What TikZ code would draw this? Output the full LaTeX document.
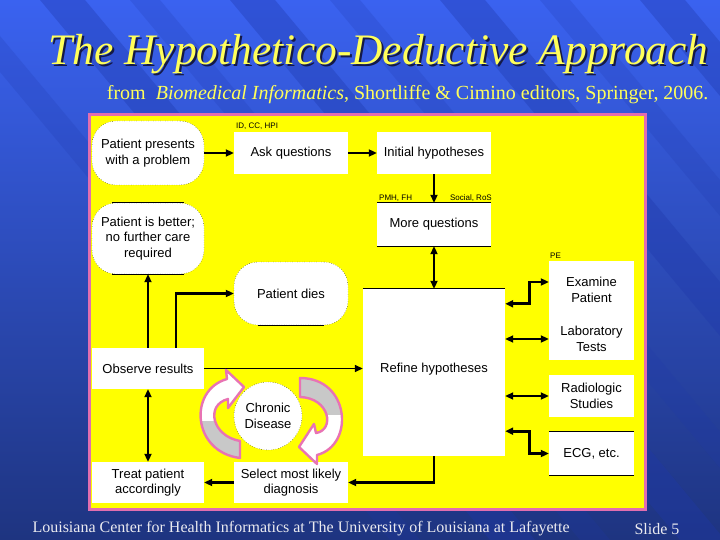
\documentclass[tikz,border=0pt]{standalone}
\usepackage{fontspec}
\setmainfont{Liberation Serif}
\newfontfamily\diagfont{Liberation Sans}
\usetikzlibrary{arrows.meta}
\definecolor{bgtop}{RGB}{58,98,240}
\definecolor{bgbot}{RGB}{30,52,128}
\definecolor{stripec}{RGB}{30,55,170}
\definecolor{panelpink}{RGB}{225,110,175}
\definecolor{panelyellow}{RGB}{255,255,0}
\definecolor{titleyellow}{RGB}{255,255,90}
\definecolor{shadowc}{RGB}{20,25,70}
\definecolor{footc}{RGB}{235,235,240}
\definecolor{arrpink}{RGB}{232,115,180}
\definecolor{arrgray}{RGB}{200,200,200}
\tikzset{
  sbox/.style={fill=white, draw=none, inner sep=0pt, align=center,
    font=\diagfont\fontsize{13}{15.5}\selectfont},
  rbox/.style={sbox, draw=black, dotted, thin, rounded corners=24pt},
  smalllbl/.style={inner sep=0pt, font=\diagfont\fontsize{8}{9}\selectfont},
  tri/.tip={Triangle[length=8pt,width=7pt]},
  thk/.style={line width=2.8pt, black},
  med/.style={line width=2.2pt, black},
  thn/.style={line width=1.6pt, black},
  solidedge/.style={line width=0.9pt, black},
  ribbon/.style={draw=arrpink, line width=2.4pt, line join=round}
}
\def\leftribbon{(240,441) .. controls (212,436) and (205,405) .. (228,399) -- (228,408) -- (244,387) -- (226,370) -- (227,379) .. controls (188,390) and (192,452) .. (240,458) -- cycle}
\def\rightribbon{(300,397) .. controls (330,398) and (335,430) .. (316,433) -- (314,424) -- (299,447) -- (317,464) -- (317,455) .. controls (355,445) and (350,378) .. (300,378) -- cycle}
\begin{document}
\begin{tikzpicture}[x=1pt,y=-1pt]
\useasboundingbox (0,0) rectangle (720,540);
% background
\shade[top color=bgtop, bottom color=bgbot] (0,0) rectangle (720,540);
\begin{scope}
\clip (0,0) rectangle (720,540);
\foreach \x in {40,230,440,640} {
  \fill[stripec, opacity=0.35] (\x,0) -- ++(45,0) -- ++(450,540) -- ++(-45,0) -- cycle;
}
\foreach \x in {-60,130,330,540} {
  \fill[stripec, opacity=0.2] (\x,0) -- ++(30,0) -- ++(450,540) -- ++(-30,0) -- cycle;
}
\end{scope}
% title
\node[font=\itshape\fontsize{43.5}{48}\selectfont, text=shadowc] (titleshadow) at (380.5,56.5) {The Hypothetico-Deductive Approach};
\node[font=\itshape\fontsize{43.5}{48}\selectfont, text=titleyellow] (title) at (378.5,54.5) {The Hypothetico-Deductive Approach};
\node[font=\fontsize{20}{22}\selectfont, text=titleyellow, anchor=east] (subtitle) at (712,95) {from \ \textit{Biomedical Informatics}, Shortliffe \& Cimino editors, Springer, 2006.};
% footer
\node[font=\fontsize{16}{18}\selectfont, text=footc, anchor=west] (footer) at (29,529) {Louisiana Center for Health Informatics at The University of Louisiana at Lafayette};
\node[font=\fontsize{16}{18}\selectfont, text=footc, anchor=east] (slide) at (683,529) {Slide 5};
% panel
\fill[panelpink] (88,113) rectangle (647,511);
\fill[panelyellow] (91,116) rectangle (644,508);
% nodes
\node[rbox, minimum width=112pt, minimum height=64pt] (pres) at (148,153) {Patient presents\\with a problem};
\node[rbox, minimum width=112pt, minimum height=71pt] (better) at (148,238.5) {Patient is better;\\no further care\\required};
\node[rbox, minimum width=114pt, minimum height=63pt] (dies) at (291,293.5) {Patient dies};
\node[sbox, minimum width=114pt, minimum height=42pt] (ask) at (291,153) {Ask questions};
\node[sbox, minimum width=114pt, minimum height=42pt] (init) at (434,153) {Initial hypotheses};
\node[sbox, minimum width=114pt, minimum height=43pt] (more) at (434,224.5) {More questions};
\node[sbox, minimum width=142pt, minimum height=167pt, text depth=9pt] (refine) at (434,372.5) {Refine hypotheses};
\node[sbox, minimum width=112pt, minimum height=41pt] (obs) at (148,368.5) {Observe results};
\node[sbox, circle, draw=black, dotted, thin, minimum size=68pt] (chronic) at (268,416) {Chronic\\Disease};
\node[sbox, minimum width=112pt, minimum height=41pt] (treat) at (148,482.5) {Treat patient\\accordingly};
\node[sbox, minimum width=114pt, minimum height=41pt] (select) at (291,482.5) {Select most likely\\diagnosis};
\node[sbox, minimum width=85pt, minimum height=58pt] (exam) at (591.5,290) {Examine\\Patient};
\node[sbox, minimum width=85pt, minimum height=42pt] (lab) at (591.5,339) {Laboratory\\Tests};
\node[sbox, minimum width=85pt, minimum height=42pt] (rad) at (591.5,396) {Radiologic\\Studies};
\node[sbox, minimum width=85pt, minimum height=43pt] (ecg) at (591.5,453.5) {ECG, etc.};
% solid edges
\draw[solidedge] (more.north west) -- (more.north east);
\draw[solidedge] (more.south west) -- (more.south east);
\draw[solidedge] (ecg.north west) -- (ecg.north east);
\draw[solidedge] (ecg.south west) -- (ecg.south east);
\draw[solidedge] (refine.north west) -- (refine.north east);
\draw[solidedge] ([xshift=20pt]better.north west) -- ([xshift=-20pt]better.north east);
\draw[solidedge] ([xshift=20pt]better.south west) -- ([xshift=-20pt]better.south east);
\draw[solidedge] ([xshift=24pt]dies.south west) -- ([xshift=-24pt]dies.south east);
% small labels
\node[smalllbl, anchor=south west] (idcc) at (236,130) {ID, CC, HPI};
\node[smalllbl, anchor=south west] (pmh) at (379,201.5) {PMH, FH};
\node[smalllbl, anchor=south east] (social) at (492,201.5) {Social, RoS};
\node[smalllbl, anchor=south west] (pe) at (550,259) {PE};
% connectors
\draw[thk, -{tri}] (pres) -- (ask);
\draw[thk, -{tri}] (ask) -- (init);
\draw[thk, -{tri}] (init) -- (more);
\draw[thk, {tri}-{tri}] (more) -- (refine);
\draw[med, -{tri}] (obs) -- (better);
\draw[thk, -{tri}] ([xshift=28pt]obs.north) |- (dies.west);
\draw[thn, -{tri}] (obs.east) -- (obs.east -| refine.west);
\draw[med, {tri}-{tri}] (obs) -- (treat);
\draw[thk, -{tri}] (select) -- (treat);
\draw[thk, -{tri}] (refine.south) |- (select.east);
\draw[thk, {tri}-{tri}] ([yshift=-15pt]refine.north east) -- ++(24,0) |- ([yshift=8pt]exam.west);
\draw[thk, {tri}-{tri}] (lab.west -| refine.east) -- (lab.west);
\draw[thk, {tri}-{tri}] (rad.west -| refine.east) -- (rad.west);
\draw[thk, {tri}-{tri}] ([yshift=25pt]refine.south east) -- ++(24,0) |- (ecg.west);
% chronic disease cycle ribbons
\fill[white] \leftribbon;
\begin{scope}
\clip (150,421) rectangle (260,470);
\fill[arrgray] \leftribbon;
\end{scope}
\draw[ribbon] \leftribbon;
\fill[white] \rightribbon;
\begin{scope}
\clip (290,370) rectangle (370,414);
\fill[arrgray] \rightribbon;
\end{scope}
\draw[ribbon] \rightribbon;
\end{tikzpicture}
\end{document}
